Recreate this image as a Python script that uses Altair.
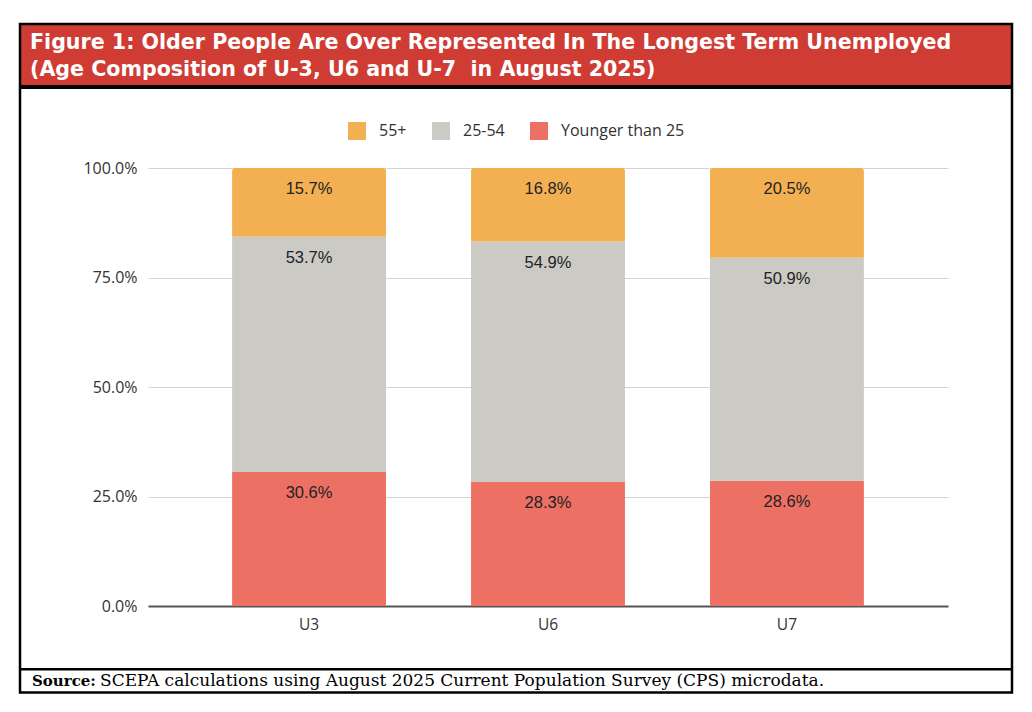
import altair as alt
import pandas as pd

categories = ["U3", "U6", "U7"]
groups = ["Younger than 25", "25-54", "55+"]
younger = [30.6, 28.3, 28.6]
middle = [53.7, 54.9, 50.9]
older = [15.7, 16.8, 20.5]
y_ticks = [0, 0.25, 0.5, 0.75, 1.0]
legend_order = ["55+", "25-54", "Younger than 25"]
colors = ["#f2b053", "#cbcac5", "#ec7064"]

title_line1 = "Figure 1: Older People Are Over Represented In The Longest Term Unemployed"
title_line2 = "(Age Composition of U-3, U6 and U-7\u00a0 in August 2025)"
source_bold = "Source:"
source_rest = "SCEPA calculations using August 2025 Current Population Survey (CPS) microdata."

rows = []
for i, c in enumerate(categories):
    for rank, (g, vals) in enumerate(zip(groups, [younger, middle, older])):
        rows.append({"category": c, "group": g, "rank": rank, "value": vals[i]})
df = pd.DataFrame(rows)

W, H = 800, 438

base = alt.Chart(df).transform_calculate(
    frac="datum.value / 100"
).transform_stack(
    stack="frac", groupby=["category"], as_=["y0", "y1"],
    sort=[alt.SortField("rank", order="ascending")]
)

xenc = alt.X("category:N", sort=categories, title=None,
             scale=alt.Scale(paddingInner=0.356, paddingOuter=0.352),
             axis=alt.Axis(labelAngle=0, ticks=False, domain=True, domainColor="#555555",
                           domainWidth=2, labelFont="Open Sans", labelFontSize=15.5,
                           labelColor="#333333", labelPadding=11, grid=False))
yenc = alt.Y("y1:Q", title=None,
             scale=alt.Scale(domain=[0, 1], nice=False),
             axis=alt.Axis(values=y_ticks, format=".1%", ticks=False, domain=False,
                           labelFont="Open Sans", labelFontSize=16, labelColor="#333333",
                           labelPadding=11, grid=True, gridColor="#d4d4d4", gridWidth=1.2))
cenc = alt.Color("group:N", scale=alt.Scale(domain=legend_order, range=colors),
                 legend=alt.Legend(title=None, orient="none", legendX=200, legendY=-46,
                                   direction="horizontal", symbolType="square",
                                   symbolSize=324, symbolStrokeWidth=0, labelFont="Open Sans",
                                   labelFontSize=16, labelColor="#333333", labelOffset=13,
                                   columnPadding=25, padding=0))

bars_low = base.transform_filter("datum.rank < 2").mark_bar().encode(
    x=xenc, y=yenc, y2="y0:Q", color=cenc)
bars_top = base.transform_filter("datum.rank == 2").mark_bar(
    cornerRadiusTopLeft=3, cornerRadiusTopRight=3).encode(
    x=xenc, y=yenc, y2="y0:Q", color=cenc)

labels = base.mark_text(baseline="top", dy=13, font="Liberation Sans", fontSize=16.5,
                        color="#222222").encode(
    x=alt.X("category:N", sort=categories),
    y=alt.Y("y1:Q"),
    text=alt.Text("frac:Q", format=".1%"))

one = pd.DataFrame({"k": [0]})
deco = alt.Chart(one)

red_box = deco.mark_rect(color="#cf3c34").encode(
    x=alt.value(-128), x2=alt.value(864), y=alt.value(-144), y2=alt.value(-83))
title_rule = deco.mark_rect(color="#000000").encode(
    x=alt.value(-128), x2=alt.value(864), y=alt.value(-83), y2=alt.value(-79))
source_rule = deco.mark_rect(color="#000000").encode(
    x=alt.value(-128), x2=alt.value(864), y=alt.value(500), y2=alt.value(502.5))
border = deco.mark_rect(filled=False, stroke="#000000", strokeWidth=2.5).encode(
    x=alt.value(-128), x2=alt.value(864), y=alt.value(-144), y2=alt.value(524.5))

t1 = deco.mark_text(align="left", baseline="alphabetic", font="DejaVu Sans",
                    fontWeight="bold", fontSize=20.6, color="white").encode(
    x=alt.value(-118), y=alt.value(-119), text=alt.value(title_line1))
t2 = deco.mark_text(align="left", baseline="alphabetic", font="DejaVu Sans",
                    fontWeight="bold", fontSize=20.6, color="white").encode(
    x=alt.value(-118), y=alt.value(-92), text=alt.value(title_line2))
s1 = deco.mark_text(align="left", baseline="alphabetic", font="DejaVu Serif",
                    fontWeight="bold", fontSize=15, color="black").encode(
    x=alt.value(-116), y=alt.value(518), text=alt.value(source_bold))
s2 = deco.mark_text(align="left", baseline="alphabetic", font="DejaVu Serif",
                    fontSize=17, color="black").encode(
    x=alt.value(-48), y=alt.value(518), text=alt.value(source_rest))

chart = alt.layer(
    red_box, title_rule, source_rule, bars_low, bars_top, labels, border, t1, t2, s1, s2
).properties(
    width=W, height=H,
    autosize=alt.AutoSizeParams(type="none"),
    padding={"left": 140, "top": 160, "right": 70, "bottom": 90},
).configure_view(stroke=None)

chart.save("out.html", embed_options={"renderer": "svg", "actions": False})
